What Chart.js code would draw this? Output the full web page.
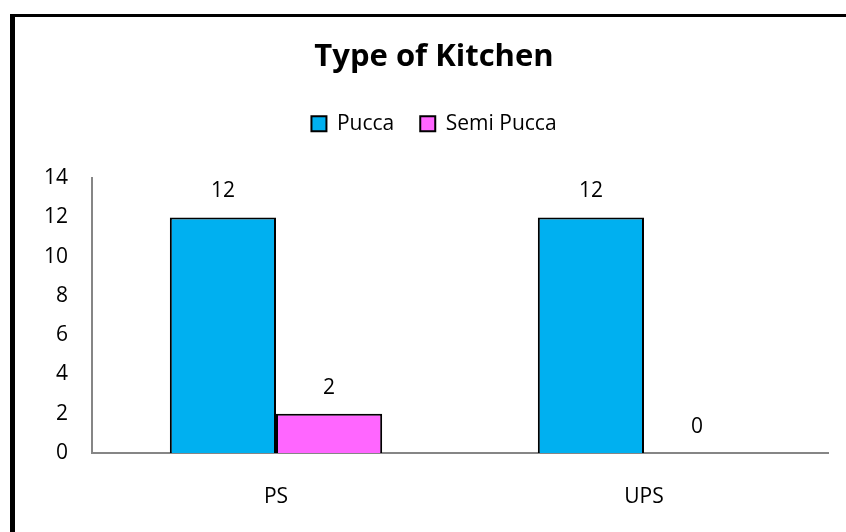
<!DOCTYPE html>
<html>
<head>
<meta charset="utf-8">
<title>Type of Kitchen</title>
<script src="https://cdn.jsdelivr.net/npm/chart.js@4.4.1/dist/chart.umd.min.js"></script>
<style>
  html, body { margin: 0; padding: 0; background: #fff; overflow: hidden; }
  #wrap { position: relative; width: 846px; height: 532px; }
  #frame {
    position: absolute; left: 10px; top: 14px; width: 900px; height: 600px;
    border-left: 5px solid #000; border-top: 3px solid #000;
  }
  #kitchenChart { position: absolute; left: 0; top: 0; }
</style>
</head>
<body>
<div id="wrap">
  <div id="frame"></div>
  <canvas id="kitchenChart" width="846" height="532"></canvas>
</div>
<script>
'use strict';

// ── Data ──────────────────────────────────────────────────────────────────────

const categories = ['PS', 'UPS'];
const puccaValues = [12, 12];
const semiPuccaValues = [2, 0];
const yTicks = [0, 2, 4, 6, 8, 10, 12, 14];

const FONT = 'Open Sans';

// ── Value labels above bars ───────────────────────────────────────────────────

const valueLabels = {
  id: 'valueLabels',
  afterDatasetsDraw(chart) {
    const { ctx } = chart;
    ctx.save();
    ctx.font = `21px "${FONT}"`;
    ctx.fillStyle = '#000';
    ctx.textAlign = 'center';
    ctx.textBaseline = 'middle';
    chart.data.datasets.forEach((ds, i) => {
      chart.getDatasetMeta(i).data.forEach((bar, j) => {
        ctx.fillText(String(ds.data[j]), bar.x, bar.y - 26);
      });
    });
    ctx.restore();
  },
};

// ── Chart ─────────────────────────────────────────────────────────────────────

new Chart(document.getElementById('kitchenChart'), {
  type: 'bar',
  data: {
    labels: categories,
    datasets: [
      {
        label: 'Pucca',
        data: puccaValues,
        backgroundColor: '#00B0F0',
        borderColor: '#000',
        borderWidth: 2,
      },
      {
        label: 'Semi Pucca',
        data: semiPuccaValues,
        backgroundColor: '#FF66FF',
        borderColor: '#000',
        borderWidth: 2,
      },
    ],
  },
  options: {
    responsive: false,
    animation: false,
    datasets: {
      bar: { categoryPercentage: 0.577, barPercentage: 1.0 },
    },
    layout: { padding: { left: 40, right: 18, top: 0, bottom: 0 } },
    plugins: {
      tooltip: { enabled: false },
      title: {
        display: true,
        text: 'Type of Kitchen',
        color: '#000',
        font: { family: FONT, size: 31, weight: 'bold', lineHeight: 1.2 },
        padding: { top: 39, bottom: 11 },
      },
      subtitle: {
        // spacer between legend and plot
        display: true,
        text: '',
        weight: 500,
        font: { size: 10, lineHeight: 1 },
        padding: { top: 24, bottom: 0 },
      },
      legend: {
        display: true,
        labels: {
          color: '#000',
          font: { family: FONT, size: 21 },
          boxWidth: 15,
          boxHeight: 15,
          padding: 26,
        },
      },
    },
    scales: {
      x: {
        grid: { display: false },
        border: { display: true, color: '#868686', width: 2 },
        ticks: { color: '#000', font: { family: FONT, size: 21 }, padding: 23 },
        afterFit(scale) { scale.height = 79; },
      },
      y: {
        min: 0,
        max: 14,
        grid: { display: false, drawTicks: false },
        border: { display: true, color: '#868686', width: 2 },
        ticks: {
          stepSize: 2,
          color: '#000',
          font: { family: FONT, size: 21 },
          padding: 24,
          callback: v => (yTicks.includes(v) ? v : ''),
        },
        afterFit(scale) { scale.width = 52; },
      },
    },
  },
  plugins: [valueLabels],
});
</script>
</body>
</html>
